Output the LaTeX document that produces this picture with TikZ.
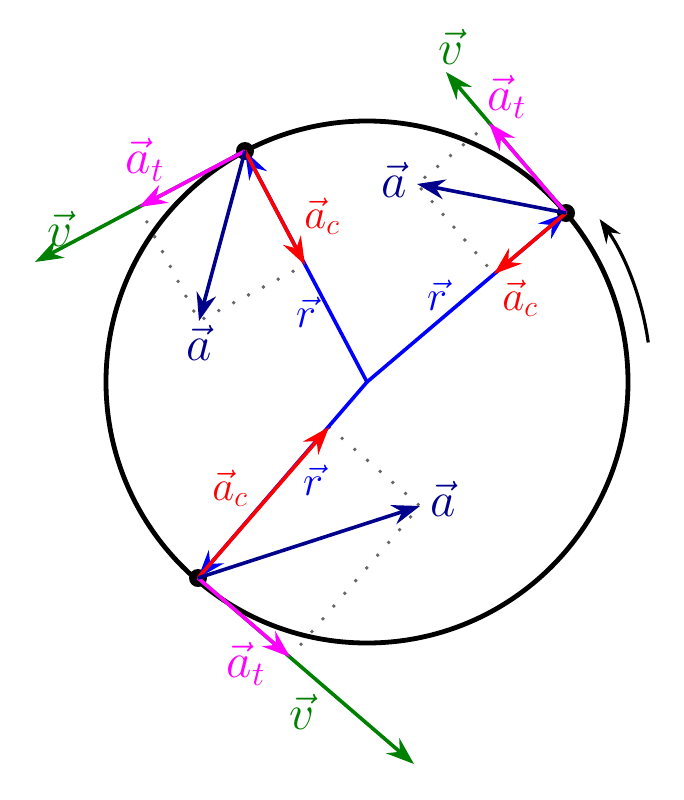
\documentclass[tikz,border=0pt]{standalone}
\usepackage{fix-cm}
\usepackage{amsmath}
\usepackage{amssymb}
\usetikzlibrary{arrows.meta}
\definecolor{vcol}{RGB}{0,128,0}
\definecolor{atcol}{RGB}{255,0,255}
\definecolor{accol}{RGB}{255,0,0}
\definecolor{acol}{RGB}{0,0,140}
\definecolor{rcol}{RGB}{0,0,255}

\begin{document}
\begin{tikzpicture}[x=0.75pt,y=0.75pt,yscale=-1,xscale=1,
  vecline/.style={line width=2.7pt,-{Stealth[length=21pt,width=15pt,inset=7pt]}},
  rvec/.style={vecline,draw=rcol,fill=rcol},
  vvec/.style={vecline,draw=vcol,fill=vcol},
  atvec/.style={vecline,draw=atcol,fill=atcol},
  acvec/.style={vecline,draw=accol,fill=accol},
  avec/.style={vecline,draw=acol,fill=acol},
  proj/.style={draw=black!60,line width=2.9pt,line cap=round,dash pattern=on 0pt off 12.6pt},
  biglbl/.style={font=\fontsize{37}{42}\selectfont,inner sep=0.75pt},
  smalllbl/.style={font=\fontsize{32}{36}\selectfont,inner sep=0.75pt}]
\useasboundingbox (0,0) rectangle (683,800);

%Coordinates: centre and the three positions
\coordinate (O) at (367,382);
\coordinate (P1) at (245,151);
\coordinate (P2) at (566,213);
\coordinate (P3) at (198,578);
%Tips at P1
\coordinate (v1) at (35,262);
\coordinate (at1) at (139,207);
\coordinate (ac1) at (305,265);
\coordinate (a1) at (199,321);
%Tips at P2
\coordinate (v2) at (446,72);
\coordinate (at2) at (489,123);
\coordinate (ac2) at (494,274);
\coordinate (a2) at (417,184);
%Tips at P3
\coordinate (v3) at (414,764);
\coordinate (at3) at (290,657);
\coordinate (ac3) at (329,427);
\coordinate (a3) at (420,506);

%Shape: Circle
\draw [line width=3.6pt] (O) circle (261);
%Curve Lines: sense of motion
\draw [line width=2.4pt,-{Stealth[length=18pt,width=13pt,inset=6pt]}] (O) ++(-8:284) arc [start angle=-8,end angle=-35,radius=284];

%Shape: Circle
\fill (P1) circle (9);
\fill (P2) circle (9);
\fill (P3) circle (9);

%Dotted lines
\draw [proj] (at1) -- (a1) -- (ac1);
\draw [proj] (at2) -- (a2) -- (ac2);
\draw [proj] (at3) -- (a3) -- (ac3);

%Straight Lines: radius
\draw [rvec] (O) -- (P1);
\draw [rvec] (O) -- (P2);
\draw [rvec] (O) -- (P3);
%Straight Lines: velocity
\draw [vvec] (P1) -- (v1);
\draw [vvec] (P2) -- (v2);
\draw [vvec] (P3) -- (v3);
%Straight Lines: tangential
\draw [atvec] (P1) -- (at1);
\draw [atvec] (P2) -- (at2);
\draw [atvec] (P3) -- (at3);
%Straight Lines: centripetal
\draw [acvec] (P1) -- (ac1);
\draw [acvec] (P2) -- (ac2);
\draw [acvec] (P3) -- (ac3);
%Straight Lines: total
\draw [avec] (P1) -- (a1);
\draw [avec] (P2) -- (a2);
\draw [avec] (P3) -- (a3);

% Text Node
\node (lv1) at (60,229) [biglbl,text=vcol] {$\vec{v}$};
\node (lat1) at (145,160) [biglbl,text=atcol] {$\vec{a}_t$};
\node (lac1) at (322,216) [smalllbl,text=accol] {$\vec{a}_c$};
\node (la1) at (199,343) [biglbl,text=acol] {$\vec{a}$};
\node (lr1) at (306,312) [smalllbl,text=rcol] {$\vec{r}$};
% Text Node
\node (lv2) at (451,47) [biglbl,text=vcol] {$\vec{v}$};
\node (lat2) at (507,97) [biglbl,text=atcol] {$\vec{a}_t$};
\node (la2) at (394,180) [biglbl,text=acol] {$\vec{a}$};
\node (lac2) at (520,298) [smalllbl,text=accol] {$\vec{a}_c$};
\node (lr2) at (437,295) [smalllbl,text=rcol] {$\vec{r}$};
% Text Node
\node (lac3) at (230,488) [smalllbl,text=accol] {$\vec{a}_c$};
\node (lr3) at (313,480) [smalllbl,text=rcol] {$\vec{r}$};
\node (la3) at (443,499) [biglbl,text=acol] {$\vec{a}$};
\node (lat3) at (246,664) [biglbl,text=atcol] {$\vec{a}_t$};
\node (lv3) at (302,712) [biglbl,text=vcol] {$\vec{v}$};
\end{tikzpicture}
\end{document}
